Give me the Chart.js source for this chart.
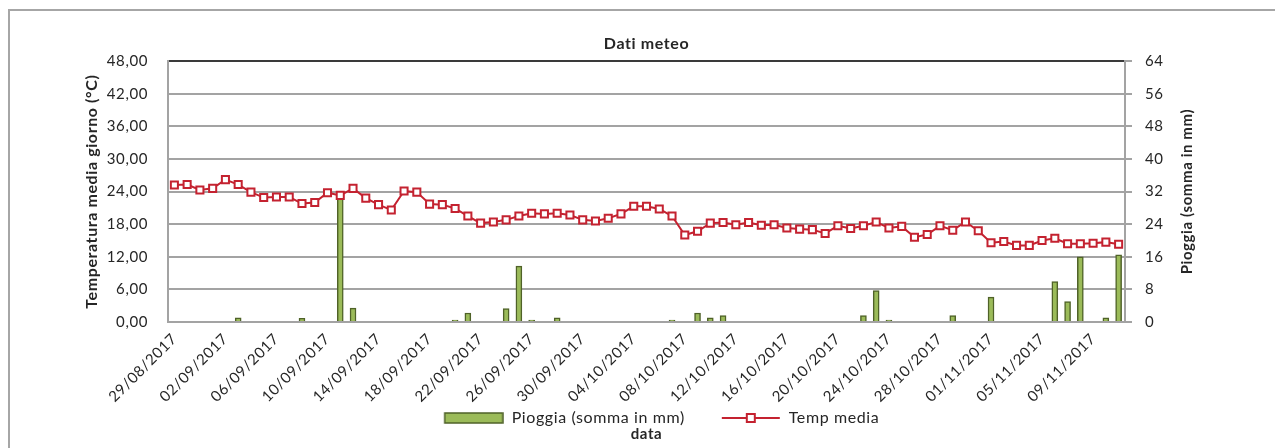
<!DOCTYPE html>
<html>
<head>
<meta charset="utf-8">
<script src="https://cdn.jsdelivr.net/npm/chart.js@4"></script>
<style>
  body { margin: 0; background: #fff; }
  #wrap { position: relative; width: 1275px; height: 448px; overflow: hidden; }
  #frame { position: absolute; left: 8px; top: 9px; width: 2000px; height: 2000px;
           border-left: 2px solid #a6a6a6; border-top: 2px solid #a6a6a6; }
  #meteo { position: absolute; left: 0; top: 0; }
</style>
</head>
<body>
<div id="wrap">
  <div id="frame"></div>
  <canvas id="meteo" width="1275" height="448"></canvas>
</div>
<script>
var dates = [
  '29/08/2017','30/08/2017','31/08/2017','01/09/2017','02/09/2017','03/09/2017','04/09/2017','05/09/2017',
  '06/09/2017','07/09/2017','08/09/2017','09/09/2017','10/09/2017','11/09/2017','12/09/2017','13/09/2017',
  '14/09/2017','15/09/2017','16/09/2017','17/09/2017','18/09/2017','19/09/2017','20/09/2017','21/09/2017',
  '22/09/2017','23/09/2017','24/09/2017','25/09/2017','26/09/2017','27/09/2017','28/09/2017','29/09/2017',
  '30/09/2017','01/10/2017','02/10/2017','03/10/2017','04/10/2017','05/10/2017','06/10/2017','07/10/2017',
  '08/10/2017','09/10/2017','10/10/2017','11/10/2017','12/10/2017','13/10/2017','14/10/2017','15/10/2017',
  '16/10/2017','17/10/2017','18/10/2017','19/10/2017','20/10/2017','21/10/2017','22/10/2017','23/10/2017',
  '24/10/2017','25/10/2017','26/10/2017','27/10/2017','28/10/2017','29/10/2017','30/10/2017','31/10/2017',
  '01/11/2017','02/11/2017','03/11/2017','04/11/2017','05/11/2017','06/11/2017','07/11/2017','08/11/2017',
  '09/11/2017','10/11/2017','11/11/2017'
];

// temperatura media giornaliera (°C)
var tempMedia = [
  25.2, 25.3, 24.3, 24.6, 26.2, 25.3, 23.9, 22.9, 23.0, 23.0,
  21.8, 22.0, 23.8, 23.3, 24.6, 22.8, 21.6, 20.6, 24.1, 23.9,
  21.7, 21.6, 20.9, 19.5, 18.2, 18.4, 18.8, 19.5, 20.0, 19.9,
  20.0, 19.7, 18.8, 18.6, 19.1, 19.9, 21.3, 21.3, 20.8, 19.5,
  16.0, 16.7, 18.2, 18.3, 17.9, 18.3, 17.8, 17.9, 17.3, 17.1,
  17.0, 16.3, 17.7, 17.2, 17.7, 18.4, 17.3, 17.6, 15.6, 16.1,
  17.7, 16.9, 18.4, 16.8, 14.6, 14.8, 14.1, 14.1, 15.0, 15.4,
  14.4, 14.4, 14.5, 14.7, 14.3
];

// pioggia (somma in mm)
var pioggia = [
  0, 0, 0, 0, 0, 1.0, 0, 0, 0, 0,
  0.9, 0, 0, 30.6, 3.4, 0, 0, 0, 0, 0,
  0, 0, 0.5, 2.2, 0, 0, 3.3, 13.7, 0.5, 0,
  1.0, 0, 0, 0, 0, 0, 0, 0, 0, 0.5,
  0, 2.2, 1.0, 1.6, 0, 0, 0, 0, 0, 0,
  0, 0, 0, 0, 1.6, 7.7, 0.5, 0, 0, 0,
  0, 1.6, 0, 0, 6.1, 0, 0, 0, 0, 9.9,
  5.0, 16.0, 0, 1.0, 16.5
];

var tempTicks = ['0,00','6,00','12,00','18,00','24,00','30,00','36,00','42,00','48,00'];
var rainTicks = ['0','8','16','24','32','40','48','56','64'];

var FONT = 'Lato';
var TXT = '#262626';
var GRID = '#a3a3a3';
var RED = '#c42230';
var SPACING = '0.6px';
var rightTitle = 'Pioggia (somma in mm)';

// legend icons (90 wide box, mark pushed to the right side)
function barIcon() {
  var c = document.createElement('canvas');
  c.width = 90; c.height = 12;
  var g = c.getContext('2d');
  g.fillStyle = '#9bbb59';
  g.fillRect(31, 1, 58, 10);
  g.strokeStyle = '#4f6228';
  g.lineWidth = 1.5;
  g.strokeRect(31, 1, 58, 10);
  return c;
}
function lineIcon() {
  var c = document.createElement('canvas');
  c.width = 90; c.height = 12;
  var g = c.getContext('2d');
  g.strokeStyle = RED;
  g.lineWidth = 2;
  g.beginPath(); g.moveTo(31, 6); g.lineTo(89, 6); g.stroke();
  g.fillStyle = '#fff';
  g.fillRect(56, 2, 8, 8);
  g.strokeRect(56, 2, 8, 8);
  return c;
}

var textPlugin = {
  id: 'textExtras',
  beforeLayout: function(chart) { chart.ctx.letterSpacing = SPACING; },
  beforeDraw: function(chart) { chart.ctx.letterSpacing = SPACING; },
  afterDraw: function(chart) {
    var s = chart.scales.y1;
    var a = chart.chartArea;
    var ctx = chart.ctx;
    ctx.save();
    ctx.translate(s.right - 88, (a.top + a.bottom) / 2);
    ctx.rotate(-Math.PI / 2);
    ctx.font = 'bold 15px ' + FONT;
    ctx.fillStyle = TXT;
    ctx.textAlign = 'center';
    ctx.textBaseline = 'middle';
    ctx.fillText(rightTitle, 0, 0);
    ctx.restore();
  }
};

var ctx = document.getElementById('meteo').getContext('2d');
var chart = new Chart(ctx, {
  type: 'bar',
  data: {
    labels: dates,
    datasets: [{
      type: 'bar',
      label: 'Pioggia (somma in mm)',
      data: pioggia,
      yAxisID: 'y1',
      backgroundColor: '#9bbb59',
      borderColor: '#4f6228',
      borderWidth: 1.5,
      barThickness: 6,
      order: 2
    }, {
      type: 'line',
      label: 'Temp media',
      data: tempMedia,
      yAxisID: 'y',
      borderColor: RED,
      borderWidth: 2,
      pointStyle: 'rect',
      pointRadius: 5,
      pointBorderWidth: 2,
      pointBackgroundColor: '#fff',
      pointBorderColor: RED,
      tension: 0,
      order: 1
    }]
  },
  options: {
    responsive: false,
    animation: false,
    layout: { padding: { left: 0, right: 0, top: 0, bottom: 5 } },
    plugins: {
      tooltip: { enabled: false },
      title: {
        display: true,
        text: 'Dati meteo',
        fullSize: false,
        color: TXT,
        font: { family: FONT, size: 16, weight: 'bold' },
        padding: { top: 34, bottom: 8 }
      },
      subtitle: {
        display: true,
        text: 'data',
        position: 'bottom',
        fullSize: false,
        color: TXT,
        font: { family: FONT, size: 15, weight: 'bold' },
        padding: { top: -11, bottom: 0 }
      },
      legend: {
        position: 'bottom',
        fullSize: false,
        labels: {
          color: TXT,
          font: { family: FONT, size: 16 },
          usePointStyle: true,
          pointStyleWidth: 90,
          padding: 6,
          generateLabels: function() {
            return [
              { text: 'Pioggia (somma in mm)', pointStyle: barIcon(), datasetIndex: 0, lineWidth: 0, fontColor: TXT },
              { text: 'Temp media', pointStyle: lineIcon(), datasetIndex: 1, lineWidth: 0, fontColor: TXT }
            ];
          }
        }
      }
    },
    scales: {
      x: {
        offset: true,
        grid: { display: false, drawTicks: false },
        border: { display: true, color: GRID, width: 2 },
        ticks: {
          autoSkip: false,
          maxRotation: 45,
          minRotation: 45,
          padding: 8,
          color: TXT,
          font: { family: FONT, size: 15 },
          callback: function(v, i) { return i % 4 === 0 ? dates[i] : ''; }
        },
        afterFit: function(s) { s.height = 82; }
      },
      y: {
        position: 'left',
        min: 0,
        max: 48,
        ticks: {
          stepSize: 6,
          padding: 20,
          color: TXT,
          font: { family: FONT, size: 15 },
          callback: function(v, i) { return tempTicks[i]; }
        },
        grid: {
          drawTicks: false,
          lineWidth: 2,
          color: function(c) { return c.tick && c.tick.value === 48 ? '#3a3a3a' : GRID; }
        },
        border: { display: true, color: GRID, width: 2 },
        title: {
          display: true,
          text: 'Temperatura media giorno (°C)',
          color: TXT,
          font: { family: FONT, size: 16, weight: 'bold' },
          padding: { top: 82, bottom: 0 }
        },
        afterFit: function(s) { s.width = 168; }
      },
      y1: {
        position: 'right',
        min: 0,
        max: 64,
        ticks: {
          stepSize: 8,
          padding: 13,
          color: TXT,
          font: { family: FONT, size: 15 },
          callback: function(v, i) { return rainTicks[i]; }
        },
        grid: {
          drawOnChartArea: false,
          drawTicks: true,
          tickLength: 7,
          lineWidth: 2,
          color: GRID
        },
        border: { display: true, color: GRID, width: 2 },
        afterFit: function(s) { s.width = 150; }
      }
    }
  },
  plugins: [textPlugin]
});
</script>
</body>
</html>
